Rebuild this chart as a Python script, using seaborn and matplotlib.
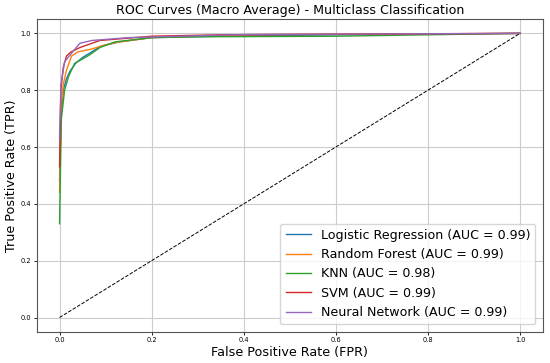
import matplotlib
matplotlib.use("Agg")
import matplotlib.pyplot as plt
import seaborn as sns
import pandas as pd

# ROC points (macro average)
models = ["Logistic Regression", "Random Forest", "KNN", "SVM", "Neural Network"]
aucs = [0.99, 0.99, 0.98, 0.99, 0.99]

lr_fpr = [0.0, 0.003, 0.008, 0.015, 0.022, 0.035, 0.05, 0.07, 0.09, 0.13, 0.2, 0.35, 0.6, 1.0]
lr_tpr = [0.48, 0.7, 0.8, 0.84, 0.865, 0.895, 0.915, 0.935, 0.955, 0.97, 0.985, 0.99, 0.995, 1.0]

rf_fpr = [0.0, 0.003, 0.008, 0.015, 0.026, 0.04, 0.07, 0.1, 0.13, 0.2, 0.4, 1.0]
rf_tpr = [0.44, 0.72, 0.82, 0.87, 0.92, 0.935, 0.945, 0.96, 0.97, 0.985, 0.995, 1.0]

knn_fpr = [0.0, 0.004, 0.011, 0.02, 0.033, 0.05, 0.066, 0.0875, 0.12, 0.2, 0.3, 0.6, 1.0]
knn_tpr = [0.33, 0.7, 0.8, 0.85, 0.895, 0.91, 0.925, 0.95, 0.97, 0.985, 0.988, 0.99, 1.0]

svm_fpr = [0.0, 0.003, 0.008, 0.015, 0.025, 0.044, 0.0875, 0.2, 0.35, 1.0]
svm_tpr = [0.53, 0.8, 0.88, 0.92, 0.935, 0.95, 0.975, 0.99, 0.995, 1.0]

nn_fpr = [0.0, 0.003, 0.011, 0.026, 0.044, 0.07, 0.15, 0.4, 1.0]
nn_tpr = [0.63, 0.82, 0.9, 0.93, 0.965, 0.975, 0.985, 0.996, 1.0]

fprs = [lr_fpr, rf_fpr, knn_fpr, svm_fpr, nn_fpr]
tprs = [lr_tpr, rf_tpr, knn_tpr, svm_tpr, nn_tpr]

colors = sns.color_palette("tab10", 5)

fig = plt.figure(figsize=(5.5, 3.63), dpi=100)
ax = fig.add_axes([0.0664, 0.0862, 0.921, 0.861])

for name, auc, f, t, c in zip(models, aucs, fprs, tprs, colors):
    df = pd.DataFrame({"fpr": f, "tpr": t})
    sns.lineplot(data=df, x="fpr", y="tpr", estimator=None, sort=False,
                 color=c, linewidth=1, label=f"{name} (AUC = {auc:.2f})", ax=ax)

ax.plot([0, 1], [0, 1], "k--", linewidth=0.7)
ax.set_xlim(-0.05, 1.05)
ax.set_ylim(-0.05, 1.05)

ax.set_title("ROC Curves (Macro Average) - Multiclass Classification", fontsize=9.1, pad=4)
ax.set_xlabel("False Positive Rate (FPR)", fontsize=9.2, labelpad=2)
ax.set_ylabel("True Positive Rate (TPR)", fontsize=9.2, labelpad=2)
ax.tick_params(labelsize=4.8, length=2.5, width=0.6, pad=1.5)
for s in ax.spines.values():
    s.set_color("#555555")
ax.grid(True, color="#cccccc", linewidth=0.8)
ax.legend(loc="lower right", fontsize=9.1, borderaxespad=0.6)

fig.savefig("out.png", dpi=100)
